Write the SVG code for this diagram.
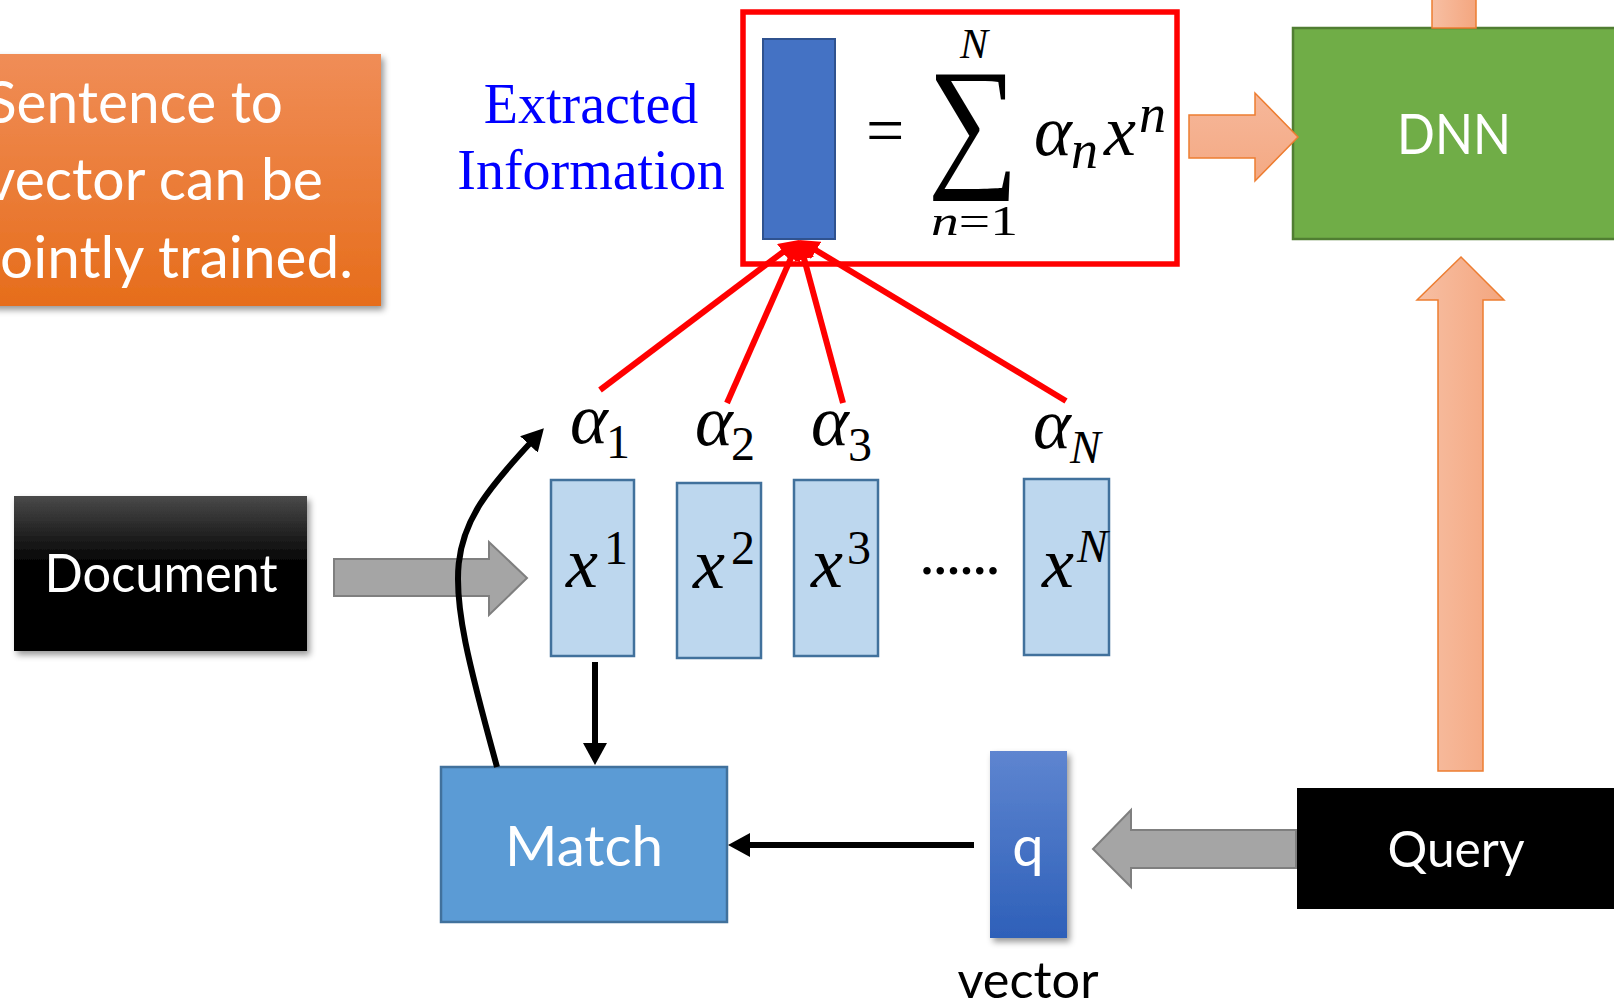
<svg xmlns="http://www.w3.org/2000/svg" width="1614" height="1003" viewBox="0 0 1614 1003">
  <defs>
    <style>
      .sans { font-family: Lato, "Open Sans", "Liberation Sans", sans-serif; }
      .wlab { fill: #FFFFFF; }
      .mi { font-family: "Liberation Serif", "DejaVu Serif", serif; font-style: italic; fill: #000000; }
      .mu { font-style: normal; }
      .vec { fill: #BDD7EE; stroke: #41719C; stroke-width: 2.5; }
      .red { stroke: #FF0000; stroke-width: 6; fill: none; }
      .blk { stroke: #000000; stroke-width: 6; fill: none; }
      .gray { fill: #A5A5A5; stroke: #7F7F7F; stroke-width: 2; }
      .peach { stroke: #ED7D31; stroke-width: 1.5; }
    </style>
    <linearGradient id="gOrange" x1="0" y1="0" x2="0" y2="1">
      <stop offset="0" stop-color="#F08D57"/>
      <stop offset="1" stop-color="#E66D1B"/>
    </linearGradient>
    <linearGradient id="gDoc" x1="0" y1="0" x2="0" y2="1">
      <stop offset="0" stop-color="#4A4A4A"/>
      <stop offset="0.45" stop-color="#000000"/>
      <stop offset="1" stop-color="#000000"/>
    </linearGradient>
    <linearGradient id="gQ" x1="0" y1="0" x2="0" y2="1">
      <stop offset="0" stop-color="#5E85D0"/>
      <stop offset="1" stop-color="#2E60B9"/>
    </linearGradient>
    <linearGradient id="gPeachH" x1="0" y1="0" x2="1" y2="0">
      <stop offset="0" stop-color="#F7BFA3"/>
      <stop offset="1" stop-color="#F4A67F"/>
    </linearGradient>
    <linearGradient id="gPeachV" x1="0" y1="0" x2="0" y2="1">
      <stop offset="0" stop-color="#F6B79A"/>
      <stop offset="1" stop-color="#F4A983"/>
    </linearGradient>
    <filter id="shadow" x="-10%" y="-10%" width="130%" height="130%">
      <feDropShadow dx="3" dy="4" stdDeviation="3" flood-color="#000000" flood-opacity="0.4"/>
    </filter>
    <marker id="redHead" viewBox="0 0 20 20" refX="4" refY="10" markerWidth="20" markerHeight="20" markerUnits="userSpaceOnUse" orient="auto">
      <path d="M0,0 L20,10 L0,20 z" fill="#FF0000"/>
    </marker>
    <marker id="blkHead" viewBox="0 0 22 24" refX="6" refY="12" markerWidth="22" markerHeight="24" markerUnits="userSpaceOnUse" orient="auto">
      <path d="M0,0 L22,12 L0,24 z" fill="#000000"/>
    </marker>
  </defs>

  <rect width="1614" height="1003" fill="#FFFFFF"/>

  <!-- note box on the left -->
  <g id="note">
    <rect x="-10" y="54" width="391" height="252" fill="url(#gOrange)" filter="url(#shadow)"/>
    <g class="sans wlab" font-size="59">
      <text x="-14" y="123" textLength="297" lengthAdjust="spacingAndGlyphs">Sentence to</text>
      <text x="-14" y="200" textLength="337" lengthAdjust="spacingAndGlyphs">vector can be</text>
      <text x="-14" y="278" textLength="367" lengthAdjust="spacingAndGlyphs">jointly trained.</text>
    </g>
  </g>

  <!-- caption of the extracted vector -->
  <g id="caption">
    <text x="591" y="123" text-anchor="middle" font-family="'Liberation Serif', 'Times New Roman', serif" font-size="56" fill="#0000FF">Extracted</text>
    <text x="591" y="189" text-anchor="middle" font-family="'Liberation Serif', 'Times New Roman', serif" font-size="56" fill="#0000FF">Information</text>
  </g>

  <!-- weighted sum -->
  <g id="formula">
    <rect x="743" y="12" width="434" height="252" fill="none" stroke="#FF0000" stroke-width="5.5"/>
    <rect x="763" y="39" width="72" height="200" fill="#4472C4" stroke="#2F528F" stroke-width="2"/>
    <text class="mi mu" x="866" y="153" font-size="68">=</text>
    <text transform="translate(973,170) scale(1,1.14)" text-anchor="middle" font-family="'Liberation Serif', 'DejaVu Sans', serif" font-size="128">∑</text>
    <text class="mi" x="974" y="58" text-anchor="middle" font-size="42">N</text>
    <text class="mi" x="931" y="235" font-size="42" textLength="87" lengthAdjust="spacingAndGlyphs">n<tspan class="mu">=1</tspan></text>
    <text class="mi" x="1034" y="155" font-size="72">α</text>
    <text class="mi" x="1071" y="168" font-size="54">n</text>
    <text class="mi" x="1104" y="155" font-size="72">x</text>
    <text class="mi" x="1139" y="132" font-size="54">n</text>
  </g>

  <!-- attention weights -->
  <g id="weights">
    <text class="mi" x="570" y="443" font-size="72">α</text>
    <text class="mi mu" x="606" y="458" font-size="48">1</text>
    <text class="mi" x="695" y="445" font-size="72">α</text>
    <text class="mi mu" x="731" y="460" font-size="48">2</text>
    <text class="mi" x="811" y="445" font-size="72">α</text>
    <text class="mi mu" x="848" y="461" font-size="48">3</text>
    <text class="mi" x="1033" y="448" font-size="72">α</text>
    <text class="mi" x="1070" y="463" font-size="46">N</text>
  </g>

  <!-- sentence vectors -->
  <g id="x1">
    <rect class="vec" x="551" y="480" width="83" height="176"/>
    <text class="mi" x="566" y="587" font-size="72">x</text>
    <text class="mi mu" x="604" y="564" font-size="48">1</text>
  </g>
  <g id="x2">
    <rect class="vec" x="677" y="483" width="84" height="175"/>
    <text class="mi" x="693" y="588" font-size="72">x</text>
    <text class="mi mu" x="731" y="564" font-size="48">2</text>
  </g>
  <g id="x3">
    <rect class="vec" x="794" y="480" width="84" height="176"/>
    <text class="mi" x="811" y="587" font-size="72">x</text>
    <text class="mi mu" x="847" y="564" font-size="48">3</text>
  </g>
  <text id="ellipsis" x="919" y="574" font-family="'Liberation Serif', serif" font-size="64" textLength="82" lengthAdjust="spacing">......</text>
  <g id="xN">
    <rect class="vec" x="1024" y="479" width="85" height="176"/>
    <text class="mi" x="1042" y="587" font-size="72">x</text>
    <text class="mi" x="1077" y="562" font-size="46">N</text>
  </g>

  <!-- document input -->
  <g id="document">
    <rect x="14" y="496" width="293" height="155" fill="url(#gDoc)" filter="url(#shadow)"/>
    <text class="sans wlab" x="161" y="592" text-anchor="middle" font-size="52" textLength="233" lengthAdjust="spacingAndGlyphs">Document</text>
  </g>

  <!-- match module -->
  <g id="match">
    <rect x="441" y="767" width="286" height="155" fill="#5B9BD5" stroke="#41719C" stroke-width="2.5"/>
    <text class="sans wlab" x="584" y="866" text-anchor="middle" font-size="57" textLength="158" lengthAdjust="spacingAndGlyphs">Match</text>
  </g>

  <!-- query vector -->
  <g id="qvec">
    <rect x="990" y="751" width="77" height="187" fill="url(#gQ)" filter="url(#shadow)"/>
    <text class="sans wlab" x="1028" y="866" text-anchor="middle" font-size="56">q</text>
    <text class="sans" x="1028" y="998" text-anchor="middle" font-size="50" fill="#000000" textLength="141" lengthAdjust="spacingAndGlyphs">vector</text>
  </g>

  <!-- query input -->
  <g id="query">
    <rect x="1297" y="788" width="330" height="121" fill="#000000"/>
    <text class="sans wlab" x="1456" y="867" text-anchor="middle" font-size="50" textLength="137" lengthAdjust="spacingAndGlyphs">Query</text>
  </g>

  <!-- DNN -->
  <g id="dnn">
    <rect x="1293" y="28" width="330" height="211" fill="#70AD47" stroke="#507E32" stroke-width="2.5"/>
    <text class="sans wlab" x="1454" y="154" text-anchor="middle" font-size="56" textLength="114" lengthAdjust="spacingAndGlyphs">DNN</text>
  </g>

  <g id="connectors">
    <!-- block arrows -->
    <polygon class="gray" points="334,559 489,559 489,542 527,578 489,615 489,596 334,596"/>
    <polygon class="gray" points="1296,830 1131,830 1131,810 1093,849 1131,887 1131,868 1296,868"/>
    <polygon class="peach" fill="url(#gPeachV)" points="1189,115 1255,115 1255,93 1298,137 1255,181 1255,158 1189,158"/>
    <polygon class="peach" fill="url(#gPeachH)" points="1438,771 1438,300 1417,300 1461,257 1504,300 1483,300 1483,771"/>
    <rect class="peach" fill="url(#gPeachH)" x="1432" y="-4" width="44" height="32"/>

    <!-- weights feeding the sum -->
    <line class="red" x1="600" y1="390" x2="786.2" y2="249.6" marker-end="url(#redHead)"/>
    <line class="red" x1="727" y1="403" x2="792.5" y2="254.6" marker-end="url(#redHead)"/>
    <line class="red" x1="843" y1="403" x2="803.2" y2="255.4" marker-end="url(#redHead)"/>
    <line class="red" x1="1066" y1="401" x2="812.7" y2="248.3" marker-end="url(#redHead)"/>

    <!-- match flow -->
    <line class="blk" x1="595" y1="662" x2="595" y2="749" marker-end="url(#blkHead)"/>
    <line class="blk" x1="974" y1="845" x2="744" y2="845" marker-end="url(#blkHead)"/>
    <path class="blk" d="M497,767 C440,560 440,540 533,440" marker-end="url(#blkHead)"/>
  </g>
</svg>
